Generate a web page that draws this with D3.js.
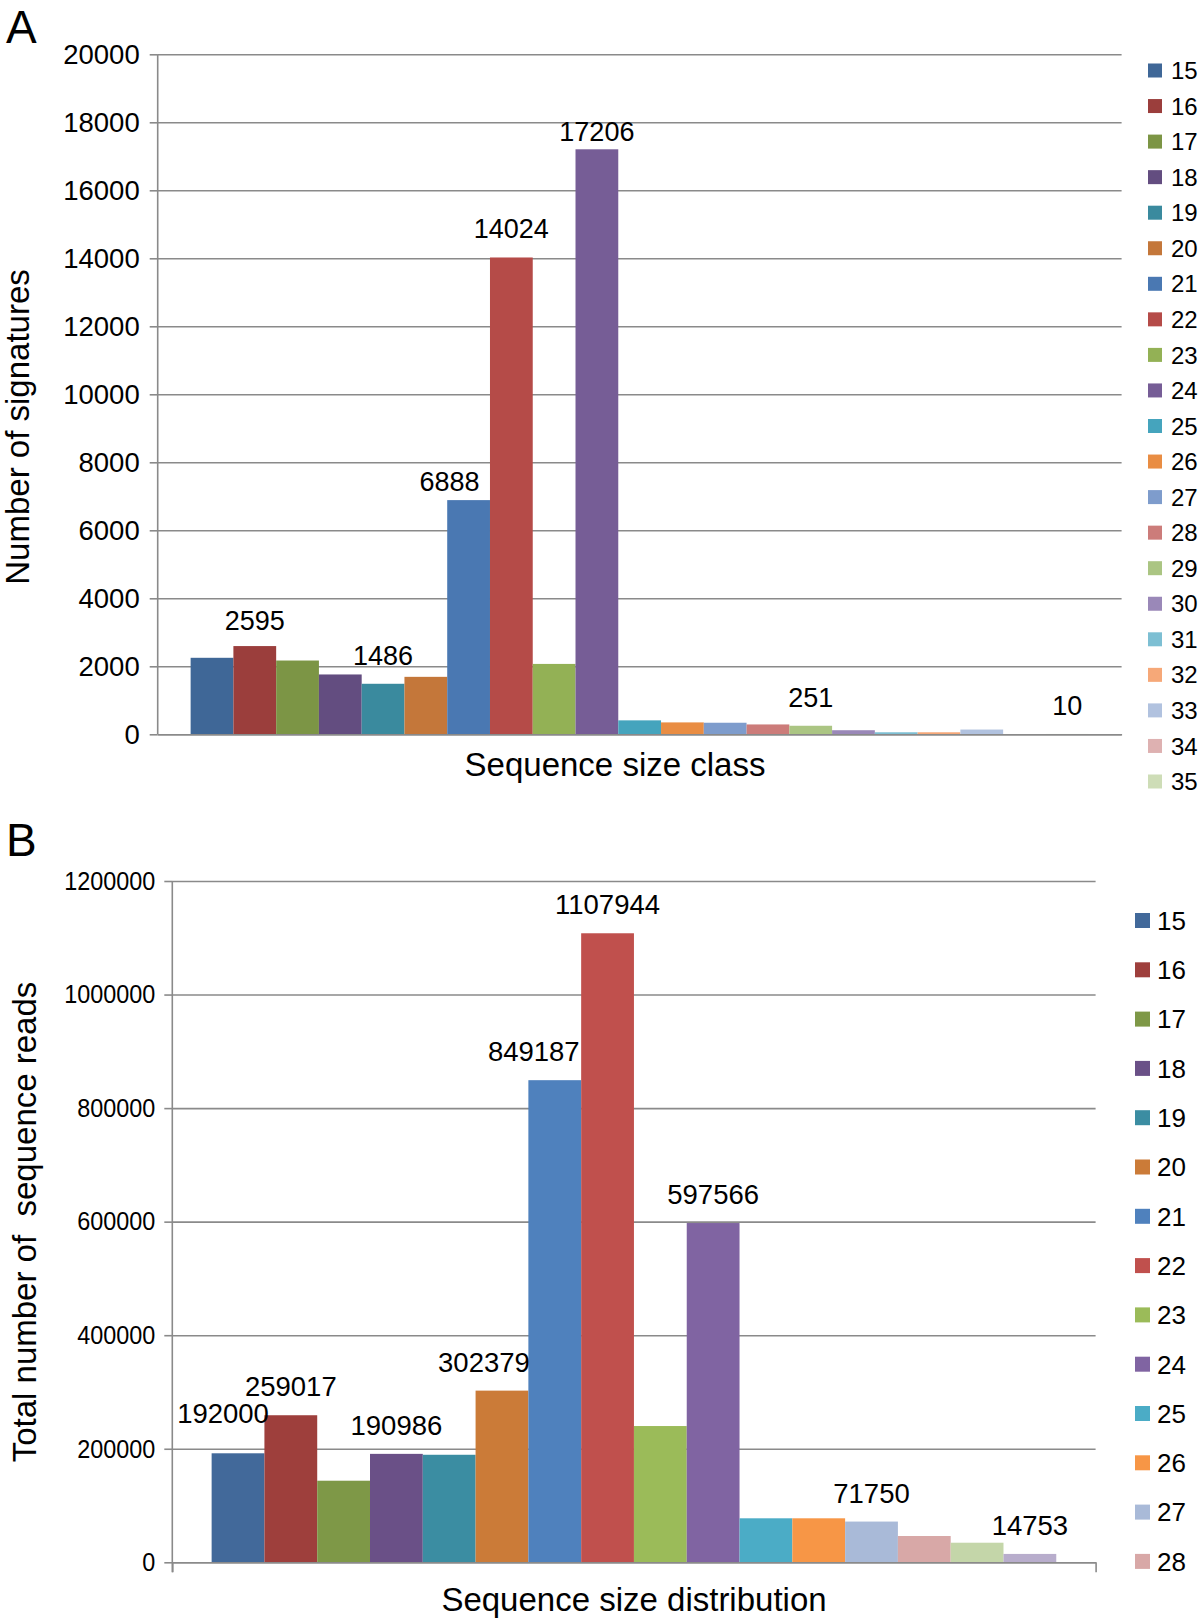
<!DOCTYPE html>
<html>
<head>
<meta charset="utf-8">
<script src="https://cdn.jsdelivr.net/npm/d3@7"></script>
<style>
  html, body { margin: 0; padding: 0; background: #fff; }
  svg { display: block; font-family: "Liberation Sans", Arial, Helvetica, sans-serif; }
</style>
</head>
<body>
<svg id="chart" width="1200" height="1620"></svg>
<script>
// ---------------- DATA ----------------
// Panel A: number of signatures per sequence size class
const sizeClassesA = ["15","16","17","18","19","20","21","22","23","24","25","26","27","28","29","30","31","32","33","34","35"];
const signatures   = [2250, 2595, 2170, 1760, 1486, 1690, 6888, 14024, 2070, 17206, 410, 350, 340, 290, 251, 120, 60, 60, 140, 8, 10];
const labeledA     = ["16","19","21","22","24","29","35"];
const ticksA       = [0,2000,4000,6000,8000,10000,12000,14000,16000,18000,20000];

// Panel B: total number of sequence reads per size
const sizeClassesB = ["15","16","17","18","19","20","21","22","23","24","25","26","27","28","29","30"];
const reads        = [192000, 259017, 143700, 190986, 189400, 302379, 849187, 1107944, 240000, 597566, 77500, 77500, 71750, 46300, 34500, 14753];
const labeledB     = ["15","16","18","20","21","22","24","27","30"];
const legendB      = ["15","16","17","18","19","20","21","22","23","24","25","26","27","28"];
const ticksB       = [0,200000,400000,600000,800000,1000000,1200000];

// ---------------- STYLE ----------------
const colorsA = ["#3F6797","#9B3E3C","#7C9545","#634D80","#3A8A9E","#C4773A","#4A78B2","#B54B48","#93B155","#765D96",
                 "#45A4BD","#E98D43","#7E9CCC","#CC7C7A","#ABC583","#9A88B8","#7DBFD3","#F6A878","#B1C2DF","#DEB1B1","#CEDDB7"];
const colorsB = ["#42699A","#9E3F3C","#7E9847","#6A5087","#3B8DA2","#CB7B38","#4F81BD","#C0504D","#9BBB59","#8064A2",
                 "#4BACC6","#F79646","#A9BAD8","#D8A8A7","#C4D6A9","#B8ADCC"];
const labelNudgeA = {"16":[0,3], "21":[-19,10], "24":[0,11]};
const labelNudgeB = {"15":[-15,-11], "20":[-18,0], "21":[-21,0]};
const GRID = "#8a8a8a";

const svg = d3.select("#chart");
svg.append("rect").attr("width",1200).attr("height",1620).attr("fill","#fff");

function panel(cfg) {
  const g = svg.append("g");
  const x = d3.scaleBand().domain(cfg.cats).range([cfg.left, cfg.right]).paddingInner(0).paddingOuter(cfg.padOuter);
  const y = d3.scaleLinear().domain([0, cfg.max]).range([cfg.bottom, cfg.top]);
  const color = d3.scaleOrdinal().domain(cfg.cats).range(cfg.colors);

  // gridlines
  g.append("g").attr("transform", `translate(${cfg.left},0)`)
    .call(d3.axisLeft(y).tickValues(cfg.ticks).tickSize(-(cfg.right - cfg.left)).tickFormat(""))
    .call(s => s.select(".domain").remove())
    .call(s => s.selectAll("line").attr("stroke", GRID).attr("stroke-width", 1.6));

  // bars
  g.append("g").selectAll("rect").data(cfg.cats).join("rect")
    .attr("x", d => x(d))
    .attr("width", x.bandwidth())
    .attr("y", (d,i) => y(cfg.values[i]))
    .attr("height", (d,i) => y(0) - y(cfg.values[i]))
    .attr("fill", d => color(d));

  // x axis line (zero line)
  const xa = d3.scaleLinear().domain([0,1]).range([cfg.left, cfg.right]);
  g.append("g").attr("transform", `translate(0,${cfg.bottom})`)
    .call(d3.axisBottom(xa).tickValues(cfg.xTicks ? [0,1] : []).tickSize(cfg.xTicks ? 10 : 0).tickSizeOuter(0).tickFormat(""))
    .call(s => s.select(".domain").attr("stroke", GRID).attr("stroke-width", 1.6))
    .call(s => s.selectAll("line").attr("stroke", GRID).attr("stroke-width", 1.6));

  // y axis
  const yAxis = g.append("g").attr("transform", `translate(${cfg.left},0)`)
    .call(d3.axisLeft(y).tickValues(cfg.ticks).tickSize(8).tickSizeOuter(0).tickPadding(cfg.tickPad).tickFormat(d3.format("d")))
    .call(s => s.select(".domain").attr("stroke", GRID).attr("stroke-width", 1.6)
                .attr("d", `M0,${cfg.top}V${cfg.bottom + (cfg.xTicks ? 10 : 0)}`))
    .call(s => s.selectAll("line").attr("stroke", GRID).attr("stroke-width", 1.6))
    .call(s => s.selectAll("text").attr("fill", "#000").attr("font-size", cfg.tickFont)
                .attr("font-family", "'Liberation Sans', Arial, sans-serif"));
  if (cfg.tickSqueeze !== 1) {
    yAxis.selectAll("text").each(function() {
      const w = this.getComputedTextLength();
      d3.select(this).attr("textLength", w * cfg.tickSqueeze).attr("lengthAdjust", "spacingAndGlyphs");
    });
  }

  // data labels
  g.append("g").selectAll("text").data(cfg.labeled).join("text")
    .attr("x", d => x(d) + x.bandwidth()/2 + (cfg.nudge[d] ? cfg.nudge[d][0] : 0))
    .attr("y", d => y(cfg.values[cfg.cats.indexOf(d)]) - 19 + (cfg.nudge[d] ? cfg.nudge[d][1] : 0))
    .attr("text-anchor", "middle").attr("font-size", cfg.labelFont).attr("fill", "#000")
    .text(d => cfg.values[cfg.cats.indexOf(d)]);

  // legend
  const lg = g.append("g").selectAll("g").data(cfg.legend).join("g")
    .attr("transform", (d,i) => `translate(${cfg.legX},${cfg.legY0 + i*cfg.legStep})`);
  lg.append("rect").attr("x", 0).attr("y", -cfg.sq/2).attr("width", cfg.sq).attr("height", cfg.sq)
    .attr("fill", d => color(d));
  lg.append("text").attr("x", cfg.legTextX).attr("y", 0).attr("dy", "0.36em")
    .attr("font-size", cfg.legFont).attr("fill", "#000").text(d => d);

  // axis titles
  g.append("text").attr("x", cfg.xTitleX).attr("y", cfg.xTitleY).attr("text-anchor", "middle")
    .attr("font-size", 33).attr("fill", "#000").text(cfg.xTitle);
  g.append("text").attr("transform", `translate(${cfg.yTitleX},${cfg.yTitleY}) rotate(-90)`)
    .attr("text-anchor", "middle").attr("font-size", 33).attr("fill", "#000").text(cfg.yTitle);

  // panel letter
  g.append("text").attr("x", 6).attr("y", cfg.letterY).attr("font-size", 46).attr("fill", "#000").text(cfg.letter);
}

panel({
  cats: sizeClassesA, values: signatures, labeled: labeledA, legend: sizeClassesA, colors: colorsA,
  ticks: ticksA, max: 20000, left: 157.7, right: 1121.6, top: 54.3, bottom: 734.3, padOuter: 0.77,
  tickPad: 10, tickFont: 27.5, tickSqueeze: 1, labelFont: 27, xTicks: false, nudge: labelNudgeA,
  legX: 1148, legY0: 70.5, legStep: 35.55, sq: 14, legTextX: 23, legFont: 24,
  xTitle: "Sequence size class", xTitleX: 615, xTitleY: 776,
  yTitle: "Number of signatures", yTitleX: 29, yTitleY: 427,
  letter: "A", letterY: 43
});

panel({
  cats: sizeClassesB, values: reads, labeled: labeledB, legend: legendB, colors: colorsB,
  ticks: ticksB, max: 1200000, left: 172.3, right: 1095.6, top: 881, bottom: 1562.3, padOuter: 0.745,
  tickPad: 9, tickFont: 26, tickSqueeze: 0.9, labelFont: 27.5, xTicks: true, nudge: labelNudgeB,
  legX: 1135, legY0: 920.5, legStep: 49.3, sq: 15, legTextX: 22, legFont: 26,
  xTitle: "Sequence size distribution", xTitleX: 634, xTitleY: 1611,
  yTitle: "Total number of  sequence reads", yTitleX: 36, yTitleY: 1222,
  letter: "B", letterY: 856
});
d3.selectAll("text").attr("xml:space", "preserve").style("white-space", "pre");
</script>
</body>
</html>
